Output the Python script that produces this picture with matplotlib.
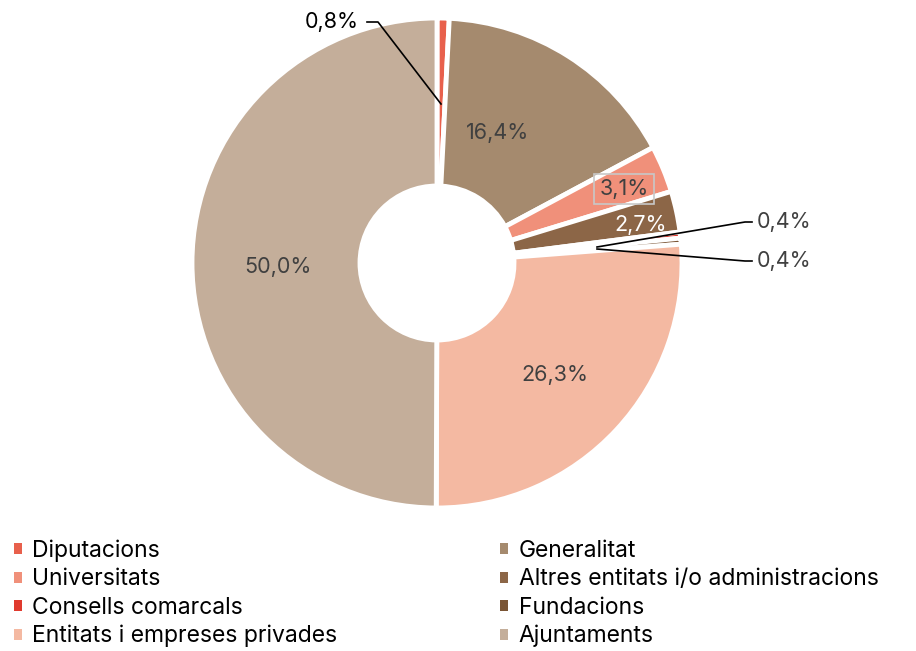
import matplotlib.pyplot as plt
from matplotlib.patches import Patch

plt.rcParams['font.family'] = ['Inter', 'DejaVu Sans']

# slices, clockwise from the top
labels = ['Diputacions', 'Generalitat', 'Universitats', 'Altres entitats i/o administracions',
          'Consells comarcals', 'Fundacions', 'Entitats i empreses privades', 'Ajuntaments']
values = [0.8, 16.4, 3.1, 2.7, 0.4, 0.4, 26.3, 50.0]
pct_text = ['0,8%', '16,4%', '3,1%', '2,7%', '0,4%', '0,4%', '26,3%', '50,0%']
colors = ['#E8604C', '#A58A6E', '#F0907A', '#8C6647', '#E03A2E', '#7A5535', '#F4B9A2', '#C4AE9A']

W, H = 916, 651
fig = plt.figure(figsize=(W / 100, H / 100), dpi=100)
ax = fig.add_axes([0, 0, 1, 1])

cx, cy = 437, H - 263
R = 245
wedges, _ = ax.pie(values, colors=colors, startangle=90, counterclock=False,
                   center=(cx, cy), radius=R, frame=True,
                   wedgeprops=dict(width=R - 77, edgecolor='white', linewidth=3.5))
ax.set_xlim(0, W)
ax.set_ylim(0, H)
ax.set_aspect('equal')
ax.axis('off')

txt = '#404040'
fs = 15.5
# inside labels (pixel coords from top)
ax.text(498, H - 133, pct_text[1], ha='center', va='center', fontsize=fs, color=txt)
ax.text(624, H - 189, pct_text[2], ha='center', va='center', fontsize=fs, color=txt,
        bbox=dict(boxstyle='square,pad=0.25', fc='none', ec='#C8C8C8', lw=1.2))
ax.text(641, H - 225, pct_text[3], ha='center', va='center', fontsize=fs, color='white')
ax.text(555, H - 375, pct_text[6], ha='center', va='center', fontsize=fs, color=txt)
ax.text(278, H - 267, pct_text[7], ha='center', va='center', fontsize=fs, color=txt)

# callouts
ax.plot([367, 378, 441], [H - 22, H - 22, H - 104], color='black', lw=1.2)
ax.text(359, H - 22, pct_text[0], ha='right', va='center', fontsize=fs, color='black')
ax.plot([597, 745, 752], [H - 247, H - 222, H - 222], color='black', lw=1.2)
ax.plot([597, 745, 752], [H - 249, H - 261, H - 261], color='black', lw=1.2)
ax.text(757, H - 222, pct_text[4], ha='left', va='center', fontsize=fs, color=txt)
ax.text(757, H - 261, pct_text[5], ha='left', va='center', fontsize=fs, color=txt)

order = [0, 2, 4, 6, 1, 3, 5, 7]
handles = [Patch(facecolor=colors[i], edgecolor='none', label=labels[i]) for i in order]
fig.legend(handles=handles, ncol=2, loc='upper left', bbox_to_anchor=(0.015, 0.171),
           frameon=False, fontsize=16.5, handlelength=0.36, handleheight=0.36,
           handletextpad=0.45, columnspacing=7.1, labelspacing=0.27, borderaxespad=0.0,
           borderpad=0.0)

fig.savefig('out.png', dpi=100)
